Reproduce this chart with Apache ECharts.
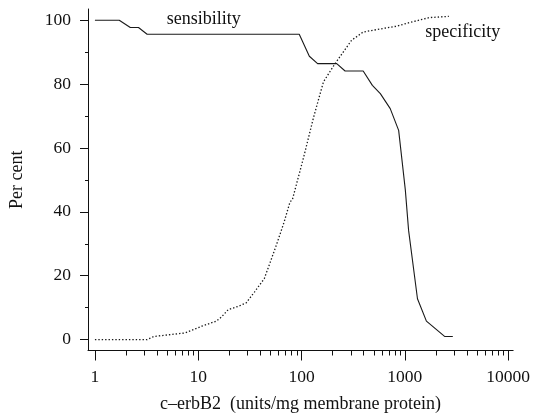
<!DOCTYPE html>
<html>
<head>
<meta charset="utf-8">
<script src="https://cdn.jsdelivr.net/npm/echarts@6/dist/echarts.min.js"></script>
<style>html,body{margin:0;padding:0;background:#fff;}#c{width:533px;height:420px;}</style>
</head>
<body>
<div id="c"></div>
<script>
// Sensibility curve (solid)
var senX = [1, 1.72, 2.2, 2.64, 3.2, 95, 119, 143, 219, 264, 395, 485, 579, 722, 871, 1011, 1087, 1325, 1617, 2425, 2912];
var senY = [100, 100, 97.7, 97.7, 95.6, 95.6, 88.7, 86.4, 86.4, 84.1, 84.1, 79.6, 77.0, 72.3, 65.5, 46.8, 34.2, 12.8, 5.8, 1.0, 1.0];
// Specificity curve (dotted)
var specX = [1, 3.2, 3.73, 7.48, 10.8, 15.0, 16.8, 19.5, 24.3, 29.1, 35.0, 43.6, 50.5, 58.5, 67.8, 77.3, 81.5, 105, 131, 163, 211, 305, 395, 615, 824, 1189, 1716, 2666];
var specY = [0, 0, 1.0, 2.1, 4.2, 5.8, 7.1, 9.4, 10.4, 11.5, 14.9, 19.1, 24.8, 30.6, 36.8, 43.1, 43.8, 57.2, 69.7, 80.7, 86.4, 93.7, 96.3, 97.4, 98.1, 99.5, 100.8, 101.2];
// Axis ticks
var xMajorTicks = [1, 10, 100, 1000, 10000];
var yMajorTicks = [0, 20, 40, 60, 80, 100];
var yMinorTicks = [10, 30, 50, 70, 90];
var curveNames = ['sensibility', 'specificity'];
var labelPos = [[11.3, 100.3], [3630, 96.1]];

var xMinorTicks = [];
for (var d = 0; d < 4; d++) {
  for (var k = 2; k <= 9; k++) xMinorTicks.push(k * Math.pow(10, d));
}
function pairs(xs, ys) { return xs.map(function (x, i) { return [x, ys[i]]; }); }

var FONT = 'Liberation Serif';
var TXT = '#111';
var XMIN = 0.857, XMAX = 11170, YMIN = -3.4, YMAX = 103.5;

var chart = echarts.init(document.getElementById('c'), null, {renderer: 'canvas'});
chart.setOption({
  animation: false,
  backgroundColor: '#fff',
  grid: {left: 85, right: 18, top: 9, bottom: 69.5, containLabel: false},
  xAxis: [{
    type: 'log', logBase: 10, min: XMIN, max: XMAX, position: 'bottom',
    name: 'c\u2013erbB2  (units/mg membrane protein)', nameLocation: 'middle', nameGap: 45,
    nameTextStyle: {fontFamily: FONT, fontSize: 18, color: TXT},
    axisLine: {show: true, onZero: false, lineStyle: {color: '#111', width: 1}},
    axisTick: {show: true, length: 10, customValues: xMajorTicks, lineStyle: {color: '#111', width: 1}},
    axisLabel: {show: true, customValues: xMajorTicks, margin: 18, fontFamily: FONT, fontSize: 17.5, color: TXT,
      formatter: function (v) { return String(Math.round(v)); }},
    splitLine: {show: false}, minorTick: {show: false}
  }, {
    type: 'log', logBase: 10, min: XMIN, max: XMAX, position: 'bottom',
    axisLine: {show: false, onZero: false},
    axisTick: {show: true, length: 5, customValues: xMinorTicks, lineStyle: {color: '#111', width: 1}},
    axisLabel: {show: false}, splitLine: {show: false}
  }],
  yAxis: [{
    type: 'value', min: YMIN, max: YMAX, position: 'left',
    name: 'Per cent', nameLocation: 'middle', nameGap: 62, nameRotate: 90,
    nameTextStyle: {fontFamily: FONT, fontSize: 18, color: TXT},
    axisLine: {show: true, onZero: false, lineStyle: {color: '#111', width: 1}},
    axisTick: {show: true, length: 8, customValues: yMajorTicks, lineStyle: {color: '#111', width: 1}},
    axisLabel: {show: true, customValues: yMajorTicks, margin: 17, fontFamily: FONT, fontSize: 17.5, color: TXT},
    splitLine: {show: false}
  }, {
    type: 'value', min: YMIN, max: YMAX, position: 'left',
    axisLine: {show: false, onZero: false},
    axisTick: {show: true, length: 3, customValues: yMinorTicks, lineStyle: {color: '#111', width: 1}},
    axisLabel: {show: false}, splitLine: {show: false}
  }],
  series: [{
    name: curveNames[0], type: 'line', xAxisIndex: 0, yAxisIndex: 0,
    data: pairs(senX, senY), showSymbol: false, symbol: 'none',
    lineStyle: {color: '#1a1a1a', width: 1.1, type: 'solid'},
    markPoint: {silent: true, symbol: 'circle', symbolSize: 0,
      data: [{coord: labelPos[0], label: {show: true, position: 'inside', formatter: curveNames[0], fontFamily: FONT, fontSize: 18, color: TXT}}]}
  }, {
    name: curveNames[1], type: 'line', xAxisIndex: 0, yAxisIndex: 0,
    data: pairs(specX, specY), showSymbol: false, symbol: 'none',
    lineStyle: {color: '#1a1a1a', width: 1.3, type: [1.4, 2.0]},
    markPoint: {silent: true, symbol: 'circle', symbolSize: 0,
      data: [{coord: labelPos[1], label: {show: true, position: 'inside', formatter: curveNames[1], fontFamily: FONT, fontSize: 18, color: TXT}}]}
  }]
});
</script>
</body>
</html>
